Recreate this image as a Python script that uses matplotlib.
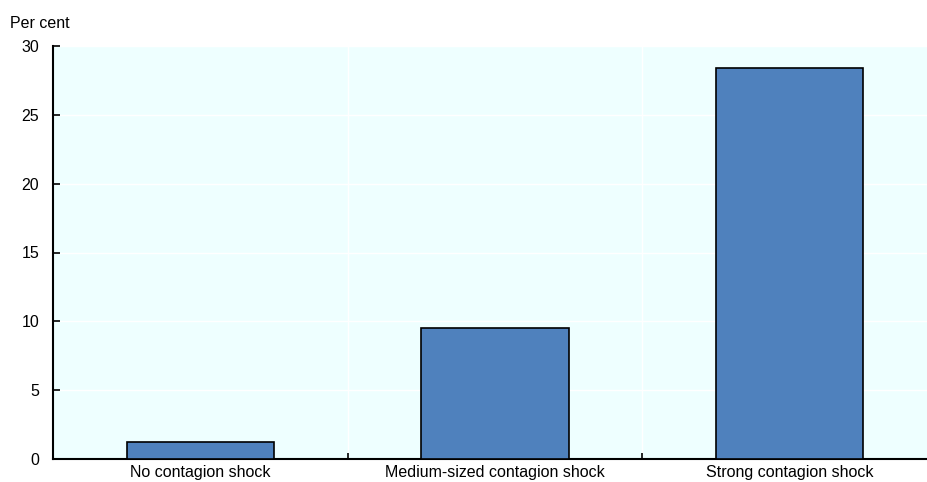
import matplotlib
matplotlib.use("Agg")
from matplotlib import pyplot as plt

# data
categories = ["No contagion shock", "Medium-sized contagion shock", "Strong contagion shock"]
values = [1.23, 9.5, 28.4]
yticks = [0, 5, 10, 15, 20, 25, 30]

# style
bar_color = "#4F81BD"
bg_color = "#EEFFFF"
plt.rcParams["font.family"] = ["Liberation Sans", "DejaVu Sans"]
fs = 11.5

fig = plt.figure(figsize=(9.28, 4.82), dpi=100)
# x range of the axes runs a little past the right edge of the figure
ax = fig.add_axes([53 / 928, 1 - 459 / 482, (937 - 53) / 928, (459 - 46) / 482])
ax.set_facecolor(bg_color)

x = list(range(len(categories)))
ax.bar(x, values, width=0.5, color=bar_color, edgecolor="black", linewidth=1.2, zorder=3)

ax.set_xlim(-0.5, 2.5)
ax.set_ylim(0, 30)
ax.set_yticks(yticks)
ax.set_xticks(x)
ax.set_xticklabels(categories, fontsize=fs)
ax.set_xticks([0.5, 1.5], minor=True)
ax.tick_params(axis="x", which="major", length=0, pad=4)
ax.tick_params(axis="x", which="minor", direction="in", length=4, width=1.2)
ax.tick_params(axis="y", direction="in", length=5, width=1.2, labelsize=fs, pad=10)

ax.grid(axis="y", color="white", linewidth=1, zorder=0)
ax.grid(axis="x", which="minor", color="white", linewidth=1, zorder=0)
ax.set_axisbelow(True)

for s in ["top", "right"]:
    ax.spines[s].set_visible(False)
ax.spines["left"].set_linewidth(1.5)
ax.spines["bottom"].set_linewidth(1.5)

fig.text(10 / 928, 1 - 23 / 482, "Per cent", fontsize=fs, va="center", ha="left")

fig.savefig("out.png", dpi=100)
